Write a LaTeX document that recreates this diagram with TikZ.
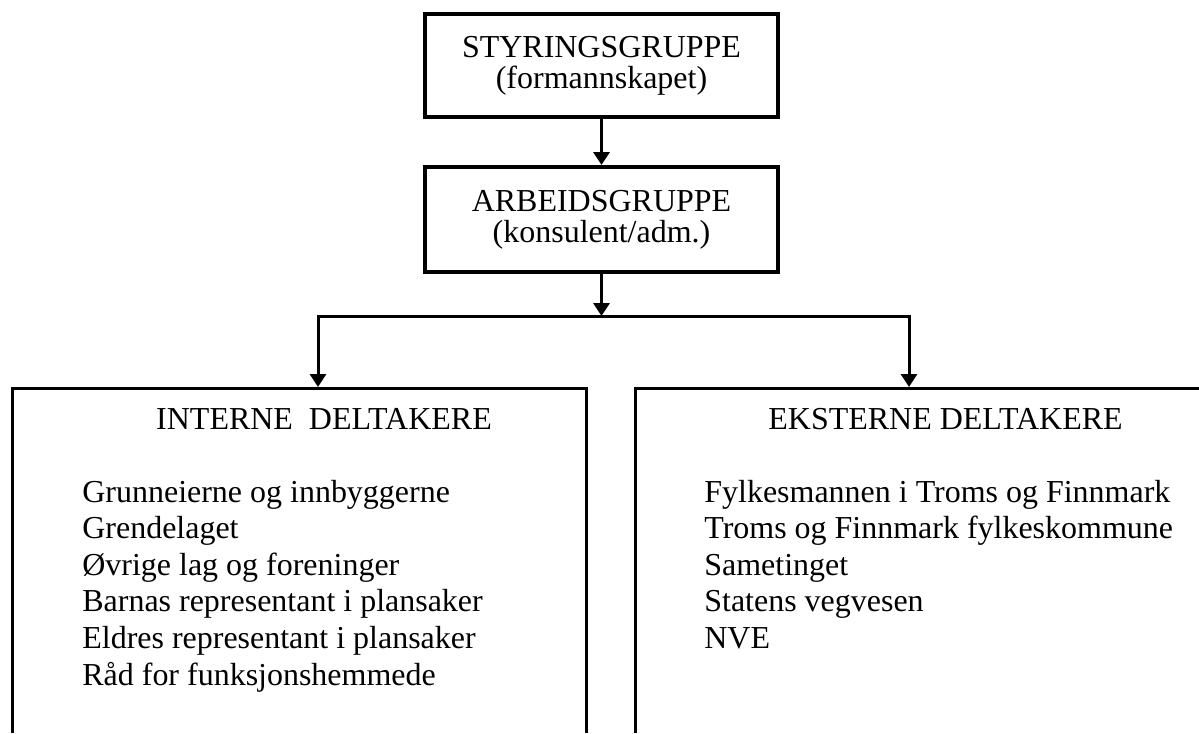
\documentclass[tikz,border=0pt]{standalone}
\usepackage{fontspec}
\setmainfont{Liberation Serif}
\usetikzlibrary{positioning, arrows.meta}

\begin{document}
\begin{tikzpicture}[x=0.02cm, y=-0.02cm,
    txt/.style={font=\fontsize{18.2pt}{17.6pt}\selectfont, inner sep=0pt},
    groupbox/.style={txt, draw, line width=0.08cm, align=center, minimum width=7.06cm},
    arr/.style={-{Triangle[width=0.32cm, length=0.26cm]}, line width=0.075cm},
    branch/.style={-{Triangle[width=0.32cm, length=0.26cm]}, line width=0.06cm},
    side/.style={line width=0.06cm}]
    \useasboundingbox (0,0) rectangle (1199,733);

    % Draw the two group boxes
    \node[groupbox, minimum height=2.06cm] (styring) at (601.5,65.5) {STYRINGSGRUPPE\\(formannskapet)};
    \node[groupbox, minimum height=2.10cm] (arbeid) at (601.5,219.5) {ARBEIDSGRUPPE\\(konsulent/adm.)};

    % Participant boxes, open at the bottom
    \node[inner sep=0pt, minimum width=11.48cm, minimum height=6.89cm] (interne) at (299.5,560.75) {};
    \node[inner sep=0pt, minimum width=11.27cm, minimum height=6.89cm] (eksterne) at (917.25,560.75) {};
    \draw[side] (interne.south west) |- (interne.north east) -- (interne.south east);
    \draw[side] (eksterne.south west) |- (eksterne.north east);

    % Arrows
    \coordinate (split) at (601.5,316);
    \coordinate (intop) at (318,387);
    \coordinate (extop) at (909,387);
    \draw[arr] (styring) -- (arbeid);
    \draw[arr] (arbeid) -- (split);
    \draw[branch] (split) -| (intop);
    \draw[branch] (split) -| (extop);

    % Headings
    \node[txt, anchor=base] (inhead) at (324,429) {INTERNE~ DELTAKERE};
    \node[txt, anchor=base] (exhead) at (945.5,429) {EKSTERNE DELTAKERE};

    % Lists of participants
    \foreach \i/\t in {0/Grunneierne og innbyggerne, 1/Grendelaget, 2/Øvrige lag og foreninger,
      3/Barnas representant i plansaker, 4/Eldres representant i plansaker, 5/Råd for funksjonshemmede} {
      \node[txt, anchor=base west] (int\i) at (82,{502+36.6*\i}) {\t};
    }
    \foreach \i/\t in {0/Fylkesmannen i Troms og Finnmark, 1/Troms og Finnmark fylkeskommune,
      2/Sametinget, 3/Statens vegvesen, 4/NVE} {
      \node[txt, anchor=base west] (ext\i) at (704,{502+36.6*\i}) {\t};
    }

\end{tikzpicture}
\end{document}
